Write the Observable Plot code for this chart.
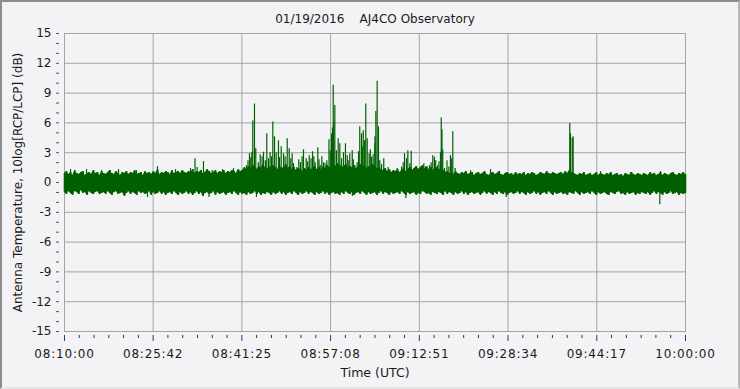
<!DOCTYPE html>
<html><head><meta charset="utf-8">
<script src="https://cdn.jsdelivr.net/npm/d3@7"></script>
<script src="https://cdn.jsdelivr.net/npm/@observablehq/plot@0.6"></script>
<style>
html,body{margin:0;padding:0;background:#f3f3f5;}
#wrap{position:relative;width:740px;height:389px;overflow:hidden;background:#f3f3f5;}
#frame{position:absolute;left:0;top:0;width:740px;height:389px;box-sizing:border-box;border-top:2px solid #8c8c8c;border-left:2px solid #8c8c8c;border-right:2px solid #b8b8b8;border-bottom:2px solid #e4e4e4;pointer-events:none;}
g[aria-label="x-axis tick label"] text{letter-spacing:0.8px;}
</style></head><body><div id="wrap"></div>
<script>
const titleText = "01/19/2016\u00a0\u00a0\u00a0\u00a0AJ4CO Observatory";
const yLabelText = "Antenna Temperature, 10log[RCP/LCP] (dB)";
const xLabelText = "Time (UTC)";
const obsDate = "2016-01-19";
const startTime = "08:10:00";
const endTime = "10:00:00";
const bandStepSeconds = 22;
const xTickLabels = ["08:10:00","08:25:42","08:41:25","08:57:08","09:12:51","09:28:34","09:44:17","10:00:00"];
const yTickValues = [-15,-12,-9,-6,-3,0,3,6,9,12,15];

// noise band envelope (dB), one value every 22 s from 08:10:00
const bandHigh = [
0.9,1.1,0.8,1.0,0.7,1.2,0.9,0.8,1.0,1.1,0.7,0.9,1.0,0.8,1.2,0.9,1.0,0.7,1.1,0.9,
0.8,1.0,1.2,0.9,0.8,1.1,0.9,0.7,1.0,0.9,1.1,0.8,1.0,0.9,1.2,0.8,0.9,1.0,0.7,1.1,
0.9,1.0,0.8,1.1,0.9,1.3,0.8,1.0,0.9,1.1,1.0,0.8,1.2,0.9,1.0,1.1,0.9,1.2,1.0,0.9,
1.1,1.0,1.3,0.9,1.1,1.0,1.2,0.9,1.0,1.3,1.1,0.9,1.0,1.2,0.9,1.1,1.0,1.2,0.9,1.1,
1.0,1.2,1.1,0.9,1.3,1.1,1.2,1.5,1.3,1.6,1.4,1.7,1.5,1.3,1.6,1.4,1.8,1.5,1.3,1.6,
1.4,1.7,1.5,1.3,1.6,1.4,1.5,1.8,1.4,1.6,1.3,1.5,1.2,1.4,1.3,1.1,1.4,1.2,1.5,1.3,
1.4,1.6,1.3,1.5,1.2,1.6,1.4,1.7,1.5,1.3,1.8,1.6,1.9,1.7,1.5,1.6,1.8,1.4,1.6,1.5,
1.7,1.4,1.6,1.8,1.5,1.7,1.4,1.6,1.5,1.8,1.6,1.4,1.5,1.3,1.2,1.4,1.1,1.3,1.0,1.2,
1.1,1.3,1.0,1.2,1.4,1.1,1.3,1.5,1.2,1.4,1.6,1.3,1.5,1.7,1.4,1.6,1.3,1.5,1.2,1.4,
1.5,1.3,1.1,1.2,1.0,1.1,0.9,1.0,0.8,1.1,0.9,0.8,1.0,0.9,1.1,0.8,0.9,1.0,0.7,0.9,
1.0,0.8,0.9,1.1,0.8,0.7,0.9,1.0,0.8,0.9,1.1,0.8,0.7,0.9,1.0,0.8,0.9,0.7,1.0,0.8,
0.9,0.8,1.0,0.7,0.9,0.8,1.0,0.9,0.7,0.8,1.0,0.9,0.8,1.1,0.9,0.8,1.0,0.9,0.8,0.9,
1.0,0.8,1.1,0.9,1.2,1.0,0.9,0.8,0.7,0.9,0.8,1.0,0.7,0.8,0.9,0.7,0.8,1.0,0.7,0.9,
0.8,0.7,0.9,0.8,1.0,0.7,0.8,0.9,0.7,0.8,0.6,0.9,0.8,0.7,1.0,0.8,0.7,0.9,0.8,0.7,
0.9,0.8,0.7,1.0,0.8,0.9,0.7,0.8,1.0,0.7,0.9,0.8,0.7,0.9,1.0,0.8,0.7,0.9,0.8,1.0,
0.8];
const bandLow = [
-1.0,-1.2,-0.9,-1.1,-1.3,-0.9,-1.0,-1.2,-0.8,-1.1,-1.0,-1.3,-0.9,-1.1,-1.2,-1.0,-0.9,-1.2,-1.1,-1.0,
-1.2,-0.9,-1.1,-1.3,-1.0,-0.9,-1.2,-1.1,-1.0,-1.4,-1.1,-0.9,-1.2,-1.0,-1.1,-1.3,-0.9,-1.1,-1.0,-1.2,
-1.1,-0.9,-1.3,-1.0,-1.2,-1.1,-0.9,-1.2,-1.0,-1.3,-1.1,-1.0,-1.2,-0.9,-1.1,-1.3,-1.0,-1.2,-1.1,-0.9,
-1.2,-1.0,-1.3,-1.1,-0.9,-1.2,-1.0,-1.4,-1.1,-1.0,-1.2,-1.1,-0.9,-1.3,-1.0,-1.2,-1.1,-1.0,-1.3,-1.1,
-1.0,-1.2,-0.9,-1.1,-1.3,-1.0,-1.2,-1.1,-1.3,-1.0,-1.2,-1.1,-0.9,-1.2,-1.0,-1.3,-1.1,-1.2,-1.0,-1.1,
-1.3,-1.0,-1.2,-1.1,-0.9,-1.2,-1.0,-1.3,-1.1,-1.0,-1.2,-0.9,-1.1,-1.3,-1.0,-1.2,-1.1,-0.9,-1.2,-1.0,
-1.1,-1.3,-1.0,-1.2,-1.1,-0.9,-1.2,-1.0,-1.3,-1.1,-1.0,-1.2,-1.1,-1.3,-1.0,-1.2,-0.9,-1.1,-1.2,-1.0,
-1.3,-1.1,-1.0,-1.2,-0.9,-1.1,-1.3,-1.0,-1.2,-1.1,-1.0,-1.3,-1.1,-0.9,-1.2,-1.0,-1.1,-1.3,-1.0,-1.2,
-1.1,-1.0,-1.2,-0.9,-1.1,-1.3,-1.0,-1.2,-1.1,-1.0,-1.3,-1.1,-1.2,-0.9,-1.0,-1.2,-1.1,-1.3,-1.0,-1.1,
-1.2,-1.0,-1.1,-1.3,-0.9,-1.2,-1.0,-1.1,-1.3,-1.0,-1.2,-1.1,-0.9,-1.2,-1.0,-1.3,-1.1,-1.0,-1.2,-1.1,
-1.0,-1.3,-1.1,-0.9,-1.2,-1.0,-1.1,-1.3,-1.0,-1.2,-0.9,-1.1,-1.2,-1.0,-1.3,-1.1,-1.0,-1.2,-1.1,-0.9,
-1.2,-1.0,-1.1,-1.3,-1.0,-1.2,-1.1,-0.9,-1.2,-1.0,-1.3,-1.1,-1.0,-1.2,-0.9,-1.1,-1.3,-1.0,-1.2,-1.1,
-1.0,-1.2,-1.1,-1.3,-1.0,-1.1,-1.2,-0.9,-1.1,-1.3,-1.0,-1.2,-1.1,-1.0,-1.2,-0.9,-1.1,-1.3,-1.0,-1.2,
-1.1,-1.0,-1.2,-1.3,-1.0,-1.1,-1.2,-1.0,-0.9,-1.2,-1.1,-1.3,-1.0,-1.2,-1.1,-1.0,-1.3,-1.1,-1.2,-1.0,
-1.1,-1.2,-1.0,-1.3,-1.1,-0.9,-1.2,-1.0,-1.1,-1.3,-1.0,-1.2,-1.1,-0.9,-1.2,-1.1,-1.0,-1.3,-1.1,-1.2,
-1.1];

// individual spikes above the band
const spikeTimes = ["08:11:04","08:13:54","08:16:33","08:19:34","08:22:45","08:26:28","08:29:40","08:32:19","08:33:07","08:33:30",
"08:34:37","08:36:10","08:37:59","08:39:56","08:42:14","08:42:46","08:43:11","08:43:21","08:43:39","08:43:53",
"08:44:40","08:45:15","08:45:50","08:46:08","08:46:54","08:47:12","08:47:54","08:48:23","08:48:48","08:49:27",
"08:49:48","08:50:05","08:50:34","08:51:09","08:51:48","08:52:20","08:52:49","08:53:21","08:53:56","08:54:24",
"08:54:52","08:55:18","08:55:53","08:56:28","08:56:51","08:57:18","08:57:36","08:57:42","08:57:53","08:58:29",
"08:58:46","08:59:04","08:59:46","09:00:05","09:00:32","09:00:58","09:01:25","09:01:51","09:02:18","09:02:37",
"09:02:55","09:03:22","09:03:37","09:03:58","09:04:23","09:04:58","09:05:09","09:05:23","09:05:37","09:05:51",
"09:06:33","09:08:56","09:09:42","09:10:14","09:10:49","09:11:10","09:11:25","09:12:28","09:13:39","09:14:39",
"09:14:57","09:15:14","09:15:32","09:16:07","09:16:36","09:16:44","09:16:52","09:17:19","09:17:45","09:18:05",
"09:18:22","09:18:47","09:19:12","09:21:55","09:25:28","09:39:30","09:39:38","09:39:56","09:40:06","09:44:57",
"09:50:15","09:55:34",
"08:42:30","08:43:00","08:44:20","08:45:00","08:45:35","08:46:25","08:46:40","08:47:30","08:48:05","08:49:05",
"08:50:20","08:51:30","08:52:05","08:53:05","08:53:40","08:54:10","08:55:05","08:55:35","08:56:10","08:57:05",
"08:57:28","08:58:10","08:59:25","09:00:15","09:01:10","09:02:05","09:02:45","09:03:10","09:04:10","09:04:40",
"09:05:00","09:06:10","09:07:20","09:10:00","09:10:35","09:15:45","09:16:20","09:17:00","09:18:35"];
const spikePeaks = [1.3,1.3,1.2,1.3,1.2,1.6,1.3,1.4,2.4,1.5,
2.1,1.2,1.3,1.4,1.7,2.9,3.05,6.2,7.9,3.4,
2.8,3.05,4.9,2.4,6.1,4.6,4.2,3.6,2.9,4.4,
3.4,2.4,1.9,1.5,2.0,3.3,2.4,2.7,3.1,2.0,
3.5,1.7,2.0,2.2,4.3,4.9,9.8,6.1,7.75,4.4,
3.9,2.4,3.9,2.7,2.9,3.2,1.7,2.0,5.6,4.9,
5.2,7.9,4.4,2.9,2.55,3.9,7.15,10.2,5.6,2.2,
2.4,1.4,1.55,2.9,3.2,1.9,3.15,1.4,1.9,1.7,
2.0,2.7,2.55,1.7,3.05,6.5,5.3,1.4,2.2,1.55,
2.7,5.1,1.4,1.2,1.3,5.95,4.9,4.45,4.6,1.1,
1.0,1.1,
2.2,2.5,2.0,2.6,2.2,3.0,2.6,3.0,2.5,2.6,
2.9,2.3,2.6,2.1,2.4,2.6,2.3,2.6,1.9,3.2,
5.5,3.2,3.0,2.2,2.3,3.1,3.6,4.2,3.3,2.8,
4.6,1.8,1.5,2.0,2.4,2.2,2.1,3.3,2.4];

// dips below the band
const dipTimes = ["08:24:42","08:35:36","08:44:00","09:01:00","09:10:28","09:28:14","09:55:27"];
const dipValues = [-1.5,-1.5,-1.5,-1.4,-1.6,-1.5,-2.25];

const green = "#006000";
const gridColor = "#a4a4a4";
const t = s => new Date(`${obsDate}T${s}Z`);
const t0 = t(startTime).getTime();

const nBand = Math.min(bandHigh.length, bandLow.length);
const band = d3.range(nBand).map(i => ({time: new Date(t0 + i * bandStepSeconds * 1000), hi: bandHigh[i], lo: bandLow[i]}));
const nSpike = Math.min(spikeTimes.length, spikePeaks.length);
const spikes = d3.range(nSpike).map(i => ({time: t(spikeTimes[i]), v: spikePeaks[i]}));
const dips = dipTimes.map((s, i) => ({time: t(s), v: dipValues[i]}));

const majorTicks = xTickLabels.map(t);
const minorTicks = [];
for (let k = 0; k < majorTicks.length - 1; k++) {
  const a = majorTicks[k].getTime(), b = majorTicks[k + 1].getTime();
  for (let j = 1; j < 6; j++) minorTicks.push(new Date(a + (b - a) * j / 6));
}
const yMinor = d3.range(-15, 16, 1);
const fmt = d3.utcFormat("%H:%M:%S");

const chart = Plot.plot({
  width: 740, height: 389,
  marginLeft: 64, marginRight: 55, marginTop: 33, marginBottom: 58,
  style: {fontFamily: "DejaVu Sans", fontSize: "12px", background: "transparent", color: "#1a1a1a"},
  x: {type: "utc", domain: [t(startTime), t(endTime)]},
  y: {domain: [-15, 15]},
  marks: [
    Plot.gridX(majorTicks, {stroke: gridColor, strokeOpacity: 1}),
    Plot.gridY(yTickValues, {stroke: gridColor, strokeOpacity: 1}),
    Plot.frame({stroke: gridColor}),
    Plot.areaY(band, {x: "time", y1: "lo", y2: "hi", fill: green, curve: "linear"}),
    Plot.ruleX(band, {x: "time", y1: "lo", y2: "hi", stroke: green, strokeWidth: 1.6}),
    Plot.ruleX(spikes, {x: "time", y1: 0, y2: "v", stroke: green, strokeWidth: 1.2}),
    Plot.ruleX(dips, {x: "time", y1: 0, y2: "v", stroke: green, strokeWidth: 1.2}),
    Plot.axisX(minorTicks, {tickSize: 3, dy: 4, stroke: "#333", tickFormat: () => "", label: null}),
    Plot.axisX(majorTicks, {tickSize: 6, dy: 4, stroke: "#1f3a7a", tickFormat: () => "", label: null}),
    Plot.axisX(majorTicks, {tickSize: 0, tickPadding: 18, tickFormat: d => fmt(d), label: null, fontSize: 12, fill: "#1a1a1a"}),
    Plot.axisY(yMinor, {tickSize: 3, dx: -5, stroke: "#555", tickFormat: () => "", label: null}),
    Plot.axisY(yTickValues, {tickSize: 0, tickPadding: 13, tickFormat: d => String(d), label: null, fontSize: 12, fill: "#1a1a1a"}),
    Plot.text([titleText], {frameAnchor: "top", dy: -14, lineAnchor: "middle", text: d => d, fontSize: 12, fill: "#1a1a1a"}),
    Plot.text([xLabelText], {frameAnchor: "bottom", dy: 41, lineAnchor: "middle", text: d => d, fontSize: 12.5, fill: "#1a1a1a"}),
    Plot.text([yLabelText], {frameAnchor: "left", dx: -46, rotate: -90, textAnchor: "middle", lineAnchor: "middle", text: d => d, fontSize: 12, fill: "#1a1a1a"})
  ]
});
const wrap = document.getElementById("wrap");
wrap.appendChild(chart);
const fr = document.createElement("div"); fr.id = "frame"; wrap.appendChild(fr);
</script></body></html>
